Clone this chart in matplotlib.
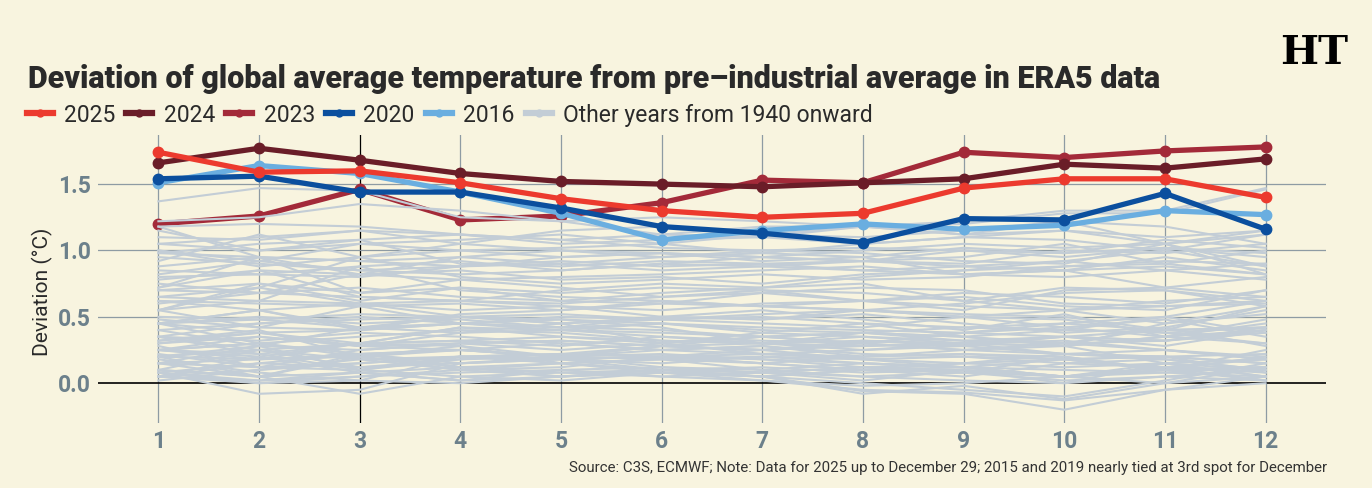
import matplotlib
matplotlib.use("Agg")
import matplotlib.pyplot as plt
from matplotlib.lines import Line2D

plt.rcParams['font.family'] = ['Roboto', 'DejaVu Sans']

months = [1, 2, 3, 4, 5, 6, 7, 8, 9, 10, 11, 12]
y_ticks = [0.0, 0.5, 1.0, 1.5]

y2025 = [1.74, 1.59, 1.60, 1.51, 1.39, 1.30, 1.25, 1.28, 1.47, 1.54, 1.54, 1.40]
y2024 = [1.66, 1.77, 1.68, 1.58, 1.52, 1.50, 1.48, 1.51, 1.54, 1.65, 1.62, 1.69]
y2023 = [1.20, 1.26, 1.46, 1.23, 1.26, 1.36, 1.53, 1.51, 1.74, 1.70, 1.75, 1.78]
y2020 = [1.54, 1.56, 1.44, 1.44, 1.32, 1.18, 1.13, 1.06, 1.24, 1.23, 1.43, 1.16]
y2016 = [1.51, 1.64, 1.58, 1.44, 1.28, 1.08, 1.15, 1.20, 1.16, 1.19, 1.30, 1.27]

other_years = [
    [0.32, 0.38, 0.30, 0.42, 0.40, 0.45, 0.38, 0.35, 0.30, 0.28, 0.45, 0.52],
    [0.40, 0.45, 0.50, 0.45, 0.42, 0.50, 0.55, 0.48, 0.40, 0.52, 0.35, 0.48],
    [0.45, 0.30, 0.35, 0.40, 0.38, 0.32, 0.30, 0.25, 0.28, 0.22, 0.20, 0.15],
    [0.20, 0.28, 0.25, 0.30, 0.32, 0.28, 0.35, 0.30, 0.38, 0.45, 0.40, 0.42],
    [0.48, 0.42, 0.40, 0.45, 0.50, 0.48, 0.45, 0.42, 0.50, 0.48, 0.38, 0.30],
    [0.35, 0.25, 0.30, 0.42, 0.35, 0.30, 0.38, 0.45, 0.35, 0.28, 0.15, 0.05],
    [0.25, 0.30, 0.20, 0.28, 0.15, 0.10, 0.12, 0.08, 0.10, 0.05, 0.12, 0.02],
    [0.10, 0.05, 0.22, 0.25, 0.20, 0.28, 0.25, 0.18, 0.15, 0.22, 0.20, 0.08],
    [0.18, 0.08, 0.02, 0.20, 0.22, 0.20, 0.15, 0.10, 0.12, 0.10, 0.08, 0.12],
    [0.28, 0.12, 0.15, 0.20, 0.18, 0.10, 0.08, 0.05, 0.02, 0.00, 0.05, 0.10],
    [0.02, 0.10, 0.18, 0.10, 0.15, 0.08, 0.05, 0.00, -0.05, -0.10, 0.02, 0.15],
    [0.08, -0.08, -0.05, 0.15, 0.18, 0.20, 0.22, 0.25, 0.30, 0.22, 0.25, 0.18],
    [0.25, 0.22, 0.10, 0.20, 0.18, 0.15, 0.20, 0.18, 0.12, 0.05, 0.00, 0.12],
    [0.25, 0.35, 0.28, 0.30, 0.25, 0.30, 0.22, 0.20, 0.22, 0.18, 0.10, 0.20],
    [0.05, 0.20, 0.08, 0.02, 0.05, 0.08, 0.02, -0.02, 0.00, 0.05, 0.10, 0.02],
    [0.20, 0.05, -0.08, 0.05, 0.02, 0.08, 0.05, -0.06, -0.08, -0.20, -0.05, 0.05],
    [0.05, 0.00, 0.02, 0.00, 0.05, 0.10, 0.05, -0.08, -0.02, -0.12, 0.00, 0.05],
    [0.08, 0.15, 0.12, 0.18, 0.20, 0.28, 0.25, 0.30, 0.25, 0.30, 0.32, 0.38],
    [0.45, 0.38, 0.28, 0.25, 0.30, 0.25, 0.28, 0.22, 0.20, 0.18, 0.20, 0.22],
    [0.25, 0.20, 0.30, 0.28, 0.20, 0.22, 0.18, 0.15, 0.12, 0.05, 0.12, 0.18],
    [0.15, 0.28, 0.10, 0.18, 0.22, 0.20, 0.15, 0.20, 0.22, 0.20, 0.10, 0.25],
    [0.25, 0.30, 0.22, 0.25, 0.20, 0.25, 0.22, 0.18, 0.20, 0.15, 0.18, 0.10],
    [0.20, 0.25, 0.18, 0.20, 0.15, 0.18, 0.20, 0.15, 0.12, 0.18, 0.20, 0.15],
    [0.10, 0.25, 0.12, 0.15, 0.18, 0.20, 0.25, 0.28, 0.30, 0.32, 0.25, 0.18],
    [0.22, 0.12, 0.10, 0.05, 0.08, 0.05, 0.02, -0.05, -0.07, -0.13, -0.05, 0.00],
    [0.10, 0.05, 0.08, 0.02, 0.10, 0.12, 0.08, 0.12, 0.15, 0.18, 0.10, 0.12],
    [0.15, 0.18, 0.20, 0.10, 0.12, 0.20, 0.18, 0.12, 0.10, 0.05, 0.15, 0.10],
    [0.15, 0.05, 0.20, 0.12, 0.08, 0.10, 0.05, 0.10, 0.08, 0.20, 0.10, 0.12],
    [0.05, 0.15, 0.22, 0.12, 0.05, 0.08, 0.05, 0.10, 0.05, 0.15, 0.12, 0.08],
    [0.15, 0.12, 0.25, 0.30, 0.32, 0.28, 0.30, 0.28, 0.30, 0.28, 0.35, 0.40],
    [0.32, 0.40, 0.20, 0.25, 0.20, 0.18, 0.15, 0.10, 0.15, 0.12, 0.15, 0.05],
    [0.08, 0.02, 0.05, 0.08, 0.10, 0.05, 0.08, 0.12, 0.08, 0.05, 0.10, 0.12],
    [0.05, 0.10, 0.15, 0.20, 0.22, 0.28, 0.25, 0.32, 0.28, 0.35, 0.32, 0.40],
    [0.45, 0.50, 0.45, 0.48, 0.42, 0.40, 0.35, 0.30, 0.25, 0.22, 0.18, 0.10],
    [0.05, 0.02, 0.08, 0.12, 0.15, 0.18, 0.10, 0.15, 0.12, 0.05, 0.08, 0.05],
    [0.20, 0.18, 0.22, 0.15, 0.20, 0.12, 0.10, 0.05, 0.08, 0.02, 0.05, 0.02],
    [0.08, 0.00, 0.05, 0.10, 0.05, 0.10, 0.08, 0.02, 0.10, 0.00, 0.15, 0.18],
    [0.30, 0.38, 0.40, 0.45, 0.42, 0.45, 0.40, 0.38, 0.35, 0.30, 0.42, 0.28],
    [0.35, 0.32, 0.38, 0.35, 0.30, 0.25, 0.28, 0.20, 0.25, 0.28, 0.35, 0.30],
    [0.25, 0.18, 0.30, 0.32, 0.28, 0.35, 0.30, 0.38, 0.42, 0.45, 0.50, 0.62],
    [0.45, 0.55, 0.42, 0.50, 0.52, 0.48, 0.50, 0.45, 0.42, 0.40, 0.50, 0.38],
    [0.62, 0.55, 0.60, 0.50, 0.45, 0.50, 0.48, 0.52, 0.45, 0.38, 0.42, 0.55],
    [0.30, 0.35, 0.28, 0.38, 0.40, 0.35, 0.32, 0.30, 0.38, 0.35, 0.40, 0.58],
    [0.65, 0.62, 0.60, 0.55, 0.58, 0.50, 0.48, 0.55, 0.50, 0.42, 0.48, 0.35],
    [0.40, 0.28, 0.42, 0.38, 0.45, 0.30, 0.35, 0.38, 0.32, 0.30, 0.25, 0.20],
    [0.35, 0.22, 0.30, 0.32, 0.35, 0.32, 0.30, 0.35, 0.32, 0.35, 0.28, 0.40],
    [0.45, 0.48, 0.42, 0.45, 0.40, 0.38, 0.35, 0.38, 0.35, 0.40, 0.38, 0.42],
    [0.45, 0.55, 0.40, 0.52, 0.55, 0.60, 0.68, 0.62, 0.65, 0.58, 0.55, 0.70],
    [0.75, 0.68, 0.72, 0.65, 0.62, 0.60, 0.58, 0.55, 0.52, 0.50, 0.40, 0.42],
    [0.35, 0.45, 0.48, 0.50, 0.45, 0.48, 0.52, 0.55, 0.50, 0.55, 0.45, 0.58],
    [0.55, 0.62, 0.88, 0.70, 0.65, 0.62, 0.58, 0.62, 0.55, 0.70, 0.72, 0.65],
    [0.70, 0.75, 0.62, 0.72, 0.68, 0.72, 0.70, 0.68, 0.62, 0.55, 0.58, 0.60],
    [0.62, 0.60, 0.58, 0.45, 0.48, 0.42, 0.30, 0.32, 0.30, 0.35, 0.32, 0.42],
    [0.50, 0.48, 0.52, 0.50, 0.48, 0.45, 0.42, 0.40, 0.38, 0.42, 0.35, 0.45],
    [0.55, 0.42, 0.58, 0.60, 0.55, 0.62, 0.58, 0.55, 0.60, 0.68, 0.70, 0.62],
    [0.72, 0.95, 0.68, 0.72, 0.62, 0.68, 0.72, 0.75, 0.62, 0.72, 0.70, 0.58],
    [0.55, 0.72, 0.60, 0.62, 0.58, 0.55, 0.60, 0.62, 0.58, 0.55, 0.62, 0.65],
    [0.60, 0.68, 0.65, 0.62, 0.70, 0.75, 0.72, 0.80, 0.85, 0.88, 0.92, 0.90],
    [0.92, 1.12, 0.95, 1.05, 1.00, 0.95, 0.98, 0.95, 0.82, 0.85, 0.72, 0.80],
    [0.72, 0.85, 0.65, 0.62, 0.60, 0.65, 0.70, 0.62, 0.68, 0.65, 0.60, 0.70],
    [0.55, 0.75, 0.68, 0.78, 0.72, 0.65, 0.68, 0.72, 0.70, 0.60, 0.58, 0.62],
    [0.70, 0.68, 0.82, 0.78, 0.80, 0.82, 0.85, 0.88, 0.82, 0.85, 0.95, 0.85],
    [0.98, 1.05, 1.08, 0.90, 0.88, 0.92, 0.90, 0.85, 0.88, 0.85, 0.88, 0.82],
    [0.95, 0.90, 0.85, 0.88, 0.92, 0.88, 0.90, 0.92, 0.95, 1.05, 0.90, 1.00],
    [0.88, 0.95, 0.82, 0.85, 0.78, 0.80, 0.75, 0.82, 0.85, 0.92, 1.00, 0.88],
    [1.00, 0.88, 0.95, 1.00, 0.95, 0.98, 0.95, 0.92, 1.00, 0.98, 1.02, 0.95],
    [0.82, 0.92, 0.85, 0.82, 0.85, 0.90, 0.88, 0.92, 0.90, 1.00, 0.98, 1.05],
    [1.18, 0.95, 0.92, 0.95, 0.90, 0.85, 0.88, 0.85, 0.82, 0.80, 0.85, 0.78],
    [0.65, 0.72, 0.95, 0.80, 0.75, 0.78, 0.82, 0.78, 0.80, 0.88, 0.90, 0.82],
    [0.85, 0.82, 0.80, 0.88, 0.90, 0.95, 1.00, 1.02, 1.00, 0.95, 1.02, 0.98],
    [1.05, 1.10, 1.15, 1.12, 1.08, 1.02, 1.00, 0.98, 0.92, 0.90, 1.05, 0.82],
    [0.80, 0.82, 0.88, 0.92, 0.85, 0.90, 0.95, 0.92, 0.88, 0.92, 0.85, 0.90],
    [0.78, 0.85, 0.82, 0.95, 1.00, 0.98, 0.95, 1.00, 1.05, 1.02, 1.05, 0.88],
    [0.98, 0.95, 0.92, 0.88, 0.95, 0.98, 0.92, 0.95, 1.02, 0.98, 1.08, 1.02],
    [1.00, 0.92, 1.05, 1.08, 1.12, 1.05, 0.98, 1.05, 1.10, 1.08, 1.00, 1.12],
    [1.10, 1.08, 1.15, 1.05, 1.15, 1.18, 1.12, 1.18, 1.22, 1.30, 1.30, 1.47],
    [1.37, 1.47, 1.45, 1.25, 1.22, 1.12, 1.18, 1.18, 1.12, 1.15, 1.10, 1.15],
    [1.05, 1.00, 1.08, 1.12, 1.05, 1.08, 1.10, 1.05, 1.10, 1.15, 1.05, 1.12],
    [1.22, 1.25, 1.35, 1.30, 1.22, 1.25, 1.22, 1.18, 1.20, 1.28, 1.28, 1.46],
    [1.15, 1.00, 1.05, 1.00, 1.02, 1.05, 1.12, 1.10, 1.15, 1.22, 1.18, 1.05],
    [1.18, 1.20, 1.18, 1.12, 1.08, 1.12, 1.10, 1.18, 1.12, 1.22, 1.05, 1.15],
]

series = [
    ("2016", y2016, "#6aaee0", 4),
    ("2020", y2020, "#0b4f9e", 5),
    ("2024", y2024, "#6a1d28", 6),
    ("2025", y2025, "#ec3a2e", 7),
]
s2023 = ("2023", y2023, "#a32a39")
legend_order = [("2025", "#ec3a2e"), ("2024", "#6a1d28"), ("2023", "#a32a39"),
                ("2020", "#0b4f9e"), ("2016", "#6aaee0"),
                ("Other years from 1940 onward", "#c3cdd6")]

BG = "#f8f4df"
GRAY = "#c3cdd6"
GRID = "#8e9ba3"
TICKC = "#6c808b"
TXT = "#2a2a2a"

W, H = 1372, 488
fig = plt.figure(figsize=(W / 100, H / 100), dpi=100, facecolor=BG)
ax = fig.add_axes([98 / W, (H - 423) / H, (1326 - 98) / W, (423 - 135) / H])
ax.set_facecolor(BG)
ax.set_xlim(0.4, 12.6)
ax.set_ylim(-0.3, 1.87)
for s in ax.spines.values():
    s.set_visible(False)

for m in months:
    ax.axvline(m, color="black" if m == 3 else GRID, lw=0.9, zorder=0.5)
for yv in y_ticks:
    ax.axhline(yv, color="black" if yv == 0 else GRID, lw=1.2 if yv == 0 else 0.9, zorder=0.5)

# 2023 is drawn beneath the grey lines (as in the reference)
ax.plot(months, s2023[1], color=s2023[2], lw=3.8, marker="o", ms=7.5, zorder=1.5,
        solid_capstyle="round")
for row in other_years:
    ax.plot(months, row, color=GRAY, lw=1.5, zorder=2)
for name, vals, col, z in series:
    ax.plot(months, vals, color=col, lw=3.8, marker="o", ms=7.5, zorder=z,
            solid_capstyle="round")

ax.set_xticks(months)
ax.set_xticklabels([str(m) for m in months])
ax.set_yticks(y_ticks)
ax.set_yticklabels([f"{v:.1f}" for v in y_ticks])
ax.tick_params(axis="both", length=0, labelsize=16.5, labelcolor=TICKC)
ax.tick_params(axis="x", pad=5)
ax.tick_params(axis="y", pad=5)
for lab in ax.get_xticklabels() + ax.get_yticklabels():
    lab.set_fontweight("bold")

fig.canvas.draw()
renderer = fig.canvas.get_renderer()

def fit_text(x, y, s, width_px, size, vertical=False, **kw):
    t = fig.text(x, y, s, fontsize=size, **kw)
    ext = t.get_window_extent(renderer)
    cur = ext.height if vertical else ext.width
    t.set_fontsize(size * width_px / cur)
    return t

fit_text(28 / W, (H - 88) / H, "Deviation of global average temperature from pre\u2013industrial average in ERA5 data",
         1137, 24, fontweight="black", color=TXT, va="baseline", ha="left")

fit_text(42 / W, (H - 292) / H, "Deviation (°C)", 128, 16, vertical=True,
         rotation=90, color=TXT, ha="center", va="center")

# legend
leg_y = (H - 113) / H
mark_x = [27, 126, 226, 326, 426, 526]
text_x = [64, 164, 264, 363, 463, 563]
for (lab, col), mx, tx in zip(legend_order, mark_x, text_x):
    fig.add_artist(Line2D([mx / W, (mx + 26) / W], [leg_y, leg_y], color=col, lw=4.5,
                          transform=fig.transFigure))
    fig.add_artist(Line2D([(mx + 13) / W], [leg_y], color=col, marker="o", ms=5,
                          transform=fig.transFigure))
    fig.text(tx / W, (H - 122) / H, lab, fontsize=16.5, color=TXT, va="baseline", ha="left")

fit_text(1327 / W, (H - 472) / H,
         "Source: C3S, ECMWF; Note: Data for 2025 up to December 29; 2015 and 2019 nearly tied at 3rd spot for December",
         756, 12, color="#333333", va="baseline", ha="right")

fig.text(1314 / W, (H - 53) / H, "HT", fontsize=29, fontweight="bold",
         family=["DejaVu Serif"], color="black", ha="center", va="center")

fig.savefig("out.png", dpi=100, facecolor=BG)
